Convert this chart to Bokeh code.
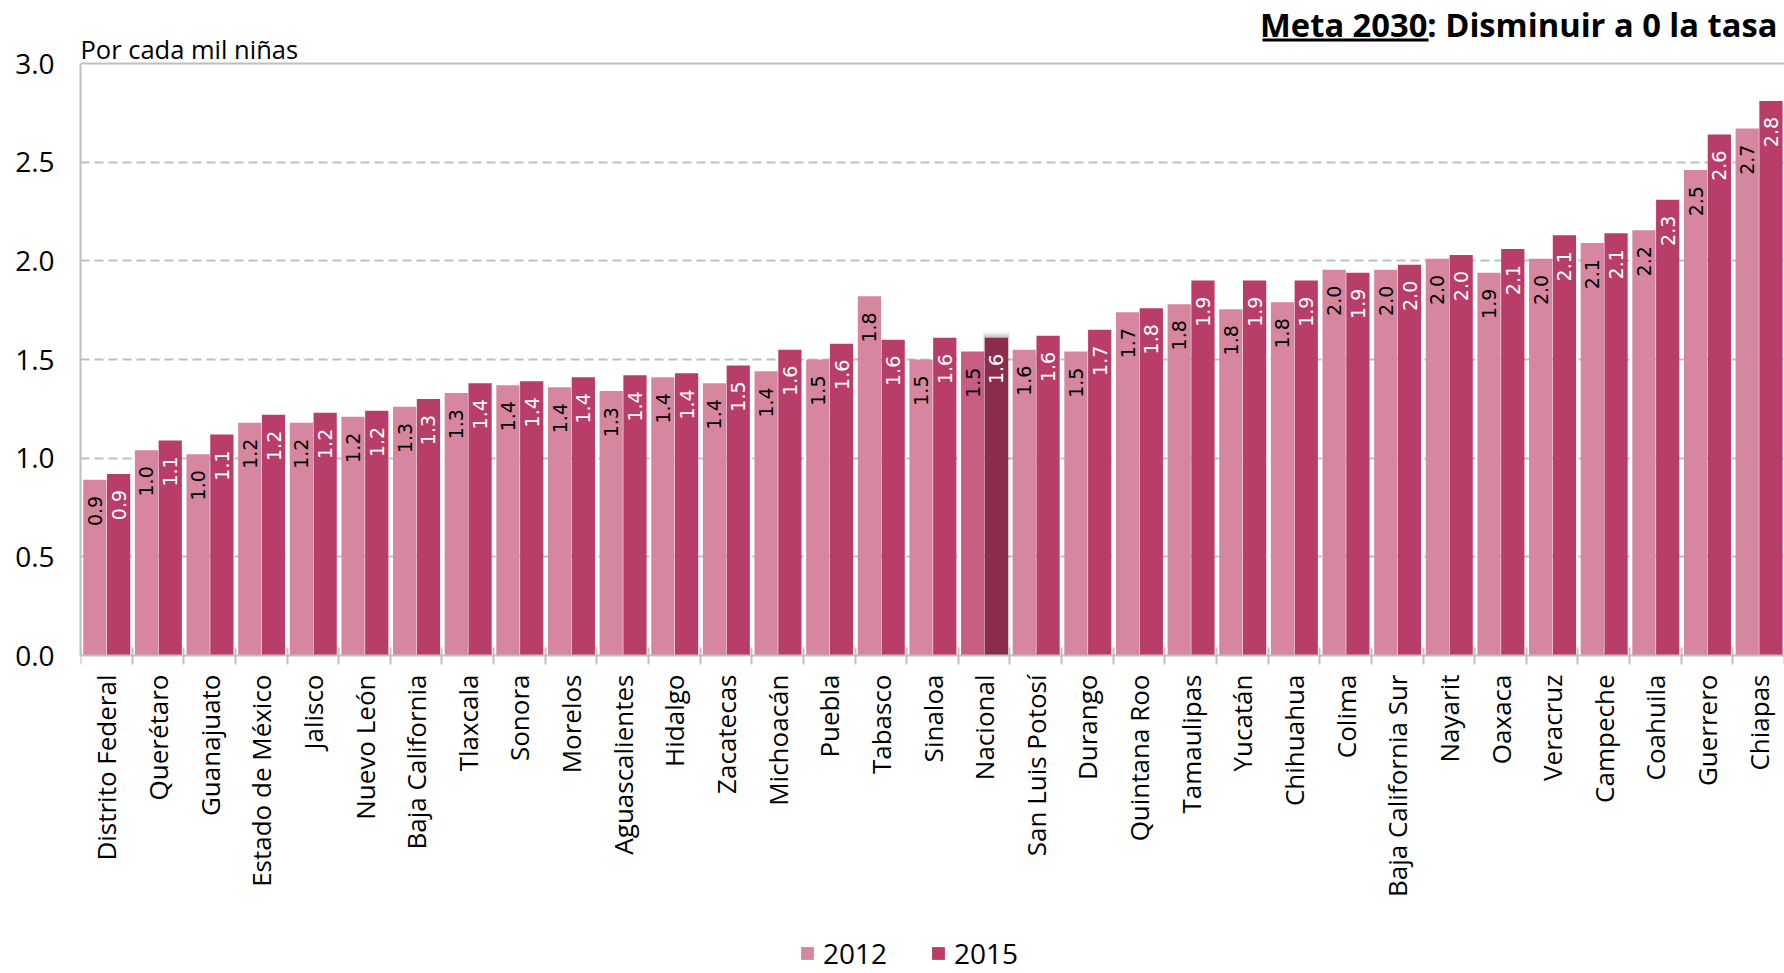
import numpy as np
from bokeh.plotting import figure
from bokeh.models import (ColumnDataSource, FixedTicker, Legend, LegendItem, Label,
                          Range1d, BoxAnnotation, CustomJSTickFormatter, Span)
from bokeh.core.properties import value
from bokeh.embed import file_html
from bokeh.resources import INLINE

# ---------------- data ----------------
states = ["Distrito Federal", "Querétaro", "Guanajuato", "Estado de México", "Jalisco",
          "Nuevo León", "Baja California", "Tlaxcala", "Sonora", "Morelos",
          "Aguascalientes", "Hidalgo", "Zacatecas", "Michoacán", "Puebla", "Tabasco",
          "Sinaloa", "Nacional", "San Luis Potosí", "Durango", "Quintana Roo",
          "Tamaulipas", "Yucatán", "Chihuahua", "Colima", "Baja California Sur",
          "Nayarit", "Oaxaca", "Veracruz", "Campeche", "Coahuila", "Guerrero", "Chiapas"]
v2012 = [0.89, 1.04, 1.02, 1.18, 1.18, 1.21, 1.26, 1.33, 1.37, 1.36,
         1.34, 1.41, 1.38, 1.44, 1.50, 1.82, 1.50, 1.54, 1.55, 1.54,
         1.74, 1.78, 1.755, 1.79, 1.955, 1.955, 2.01, 1.94, 2.01, 2.09,
         2.155, 2.46, 2.67]
v2015 = [0.92, 1.09, 1.12, 1.22, 1.23, 1.24, 1.30, 1.38, 1.39, 1.41,
         1.42, 1.43, 1.47, 1.55, 1.58, 1.60, 1.61, 1.61, 1.62, 1.651,
         1.76, 1.90, 1.90, 1.90, 1.94, 1.98, 2.03, 2.06, 2.13, 2.14,
         2.31, 2.64, 2.81]
series = ["2012", "2015"]
highlight = "Nacional"
y_ticks = [0.0, 0.5, 1.0, 1.5, 2.0, 2.5, 3.0]
y_axis_title = "Por cada mil niñas"
chart_title = "Meta 2030: Disminuir a 0 la tasa"

# ---------------- style / layout ----------------
C12, C15 = "#D6879F", "#B93D69"
C12_HL, C15_HL = "#C75D83", "#8B2C4D"
GRID = "#BFBFBF"
FONT = "Open Sans"
W, H = 1784, 973
LEFT = 80
TOP_PX, ZERO_PX = 63, 655       # canvas y of the 3.0 line and of the 0 line

n = len(states)
idx = np.arange(n)
bar_w = 0.45
x12 = idx + 0.278
x15 = idx + 0.738

col12 = [C12_HL if s == highlight else C12 for s in states]
col15 = [C15_HL if s == highlight else C15 for s in states]

src12 = ColumnDataSource(dict(x=x12, top=v2012, color=col12,
                              label=[f"{v:.1f}" for v in v2012]))
src15 = ColumnDataSource(dict(x=x15, top=v2015, color=col15,
                              label=[f"{v:.1f}" for v in v2015]))

ppu = (ZERO_PX - TOP_PX) / (y_ticks[-1] - y_ticks[0])
y_start = y_ticks[0] - (H - ZERO_PX) / ppu
y_end = y_ticks[-1] + TOP_PX / ppu
p = figure(width=W, height=H, x_range=Range1d(0, n), y_range=Range1d(y_start, y_end),
           output_backend="svg", toolbar_location=None,
           min_border_left=LEFT, min_border_right=0, min_border_top=0, min_border_bottom=0)
p.background_fill_color = "white"
p.border_fill_color = "white"
p.outline_line_color = None

# soft shadow behind the highlighted bar
h = states.index(highlight)
for k, a in enumerate([0.05, 0.07, 0.10]):
    pad = 0.03 - 0.01 * k
    sh = ColumnDataSource(dict(x=[x15[h]], top=[v2015[h] + pad]))
    p.vbar(x="x", top="top", bottom=0, width=bar_w + 2 * pad * 1.2, source=sh,
           fill_color="black", fill_alpha=a, line_color=None)

r12 = p.vbar(x="x", top="top", bottom=0, width=bar_w, source=src12, fill_color="color", line_color=None)
r15 = p.vbar(x="x", top="top", bottom=0, width=bar_w, source=src15, fill_color="color", line_color=None)

p.text(x="x", y="top", text="label", source=src12, angle=np.pi / 2, text_align="right",
       text_baseline="middle", y_offset=16, text_font=value("DejaVu Sans"),
       text_font_size="19px", text_color="black")
p.text(x="x", y="top", text="label", source=src15, angle=np.pi / 2, text_align="right",
       text_baseline="middle", y_offset=16, text_font=value("DejaVu Sans"),
       text_font_size="19px", text_color="white")

# x axis, pinned at y = 0
xa = p.xaxis[0]
xa.fixed_location = y_ticks[0]
xa.ticker = FixedTicker(ticks=list(idx + 0.5), minor_ticks=list(range(n + 1)))
xa.formatter = CustomJSTickFormatter(args=dict(names=states),
                                     code="const i = Math.floor(tick); return names[i] || '';")
xa.major_label_orientation = np.pi / 2
xa.major_tick_line_color = None
xa.major_tick_in = 0
xa.major_tick_out = 0
xa.minor_tick_line_color = GRID
xa.minor_tick_line_width = 2
xa.minor_tick_in = 8
xa.minor_tick_out = 9
xa.axis_line_color = GRID
xa.axis_line_width = 2
xa.major_label_standoff = 10
xa.major_label_text_font = FONT
xa.major_label_text_font_size = "26px"
xa.major_label_text_color = "black"
p.xgrid.visible = False

# y axis
ya = p.yaxis[0]
ya.ticker = FixedTicker(ticks=y_ticks)
ya.formatter = CustomJSTickFormatter(code="return tick.toFixed(1);")
ya.bounds = (y_ticks[0], y_ticks[-1])
ya.major_tick_line_color = None
ya.minor_tick_line_color = None
ya.major_tick_in = 0
ya.major_tick_out = 0
ya.major_label_standoff = 26
ya.axis_line_color = GRID
ya.axis_line_width = 2
ya.major_label_text_font = FONT
ya.major_label_text_font_size = "28px"
ya.major_label_text_color = "black"
p.ygrid.ticker = FixedTicker(ticks=y_ticks[1:-1])
p.ygrid.grid_line_color = GRID
p.ygrid.grid_line_width = 2
p.ygrid.grid_line_dash = "9 5"
p.add_layout(Span(location=y_ticks[-1], dimension="width", line_color=GRID, line_width=2))

# texts above the 3.0 line
p.add_layout(Label(x=0, y=H - 48, x_units="screen", y_units="screen",
                   text=y_axis_title, text_font=FONT, text_font_size="25.5px",
                   text_color="black", text_align="left", text_baseline="middle"))
p.add_layout(Label(x=W - LEFT - 7, y=H - 24, x_units="screen", y_units="screen",
                   text=chart_title, text_font=FONT, text_font_style="bold",
                   text_font_size="32.7px", text_color="black", text_align="right",
                   text_baseline="middle"))
p.add_layout(BoxAnnotation(left=1182, right=1348, bottom=H - 41, top=H - 38,
                           left_units="screen", right_units="screen",
                           bottom_units="screen", top_units="screen",
                           fill_color="black", fill_alpha=1.0, line_color=None))

legend = Legend(items=[LegendItem(label=series[0], renderers=[r12], index=0),
                       LegendItem(label=series[1], renderers=[r15], index=0)],
                orientation="horizontal", location=(719, 1))
legend.label_text_font = FONT
legend.label_text_font_size = "28px"
legend.label_text_color = "black"
legend.glyph_width = 16
legend.glyph_height = 16
legend.label_standoff = 8
legend.spacing = 43
legend.padding = 0
legend.margin = 0
legend.border_line_color = None
legend.background_fill_alpha = 0
p.add_layout(legend, "center")

open("out.html", "w").write(file_html(p, INLINE))
